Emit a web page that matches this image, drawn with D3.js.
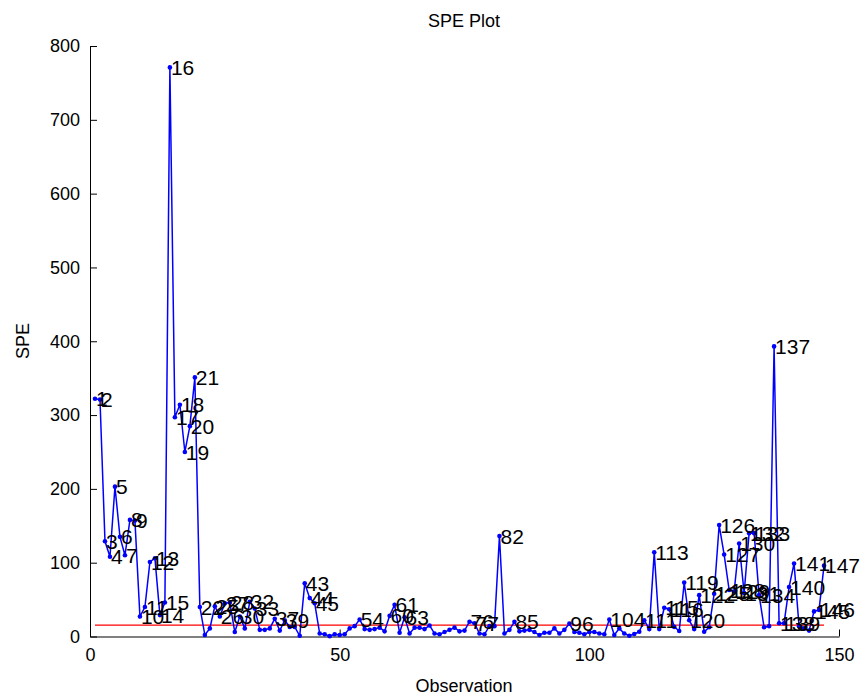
<!DOCTYPE html>
<html>
<head>
<meta charset="utf-8">
<script src="https://cdn.jsdelivr.net/npm/d3@7"></script>
<style>
  body { margin: 0; background: #fff; }
  text { font-family: "Liberation Sans", Arial, sans-serif; }
</style>
</head>
<body>
<svg width="865" height="699"></svg>
<script>
// SPE value per observation (observation number = position + 1)
var spe = [
  322, 321, 129, 108, 203, 135, 110, 158, 157, 27,
  40, 101, 106, 29, 46, 771, 297, 314, 250, 285,
  351, 40, 2, 11, 41, 27, 45, 46, 6, 27,
  11, 47, 38, 9, 9, 11, 24, 8, 22, 13,
  13, 1, 72, 52, 45, 4, 3, 0.5, 3, 2,
  3, 11, 14, 23, 10, 9, 10, 12, 7, 28,
  43, 5, 26, 4, 12, 12, 10, 15, 4, 3,
  6, 9, 12, 7, 8, 20, 18, 4, 3, 14,
  14, 136, 4, 9, 20, 7, 8, 9, 6, 2,
  5, 5, 11, 4, 9, 17.5, 6, 5, 3, 6,
  6, 4, 3, 23, 2, 11, 4, 1, 3.4, 6.5,
  22, 10, 114, 10, 39, 37, 13, 7.5, 73, 22,
  10, 56, 6.5, 12.5, 58, 151, 111, 63, 61, 126,
  59, 140, 140, 56, 12.5, 14, 393, 18, 18, 67,
  99, 14, 11, 8, 34, 36, 96
];
var limit = 15.5;
var xTicks = [0, 50, 100, 150];
var yTicks = [0, 100, 200, 300, 400, 500, 600, 700, 800];

var svg = d3.select("svg");

var x = d3.scaleLinear().domain([0, 150]).range([90, 839]);
var y = d3.scaleLinear().domain([0, 800]).range([636.5, 46]);

var data = spe.map(function (v, i) { return { obs: i + 1, v: v }; });

// axes (box off, ticks inward)
var xAxis = svg.append("g")
    .attr("transform", "translate(0," + y(0) + ")")
    .call(d3.axisBottom(x).tickValues(xTicks).tickSizeInner(-7).tickSizeOuter(0).tickPadding(12));
var yAxis = svg.append("g")
    .attr("transform", "translate(" + x(0) + ",0)")
    .call(d3.axisLeft(y).tickValues(yTicks).tickSizeInner(-7).tickSizeOuter(0).tickPadding(10));

[xAxis, yAxis].forEach(function (a) {
    a.select(".domain").attr("stroke", "#000");
    a.selectAll(".tick line").attr("stroke", "#000");
    a.selectAll(".tick text").attr("font-size", 18).attr("fill", "#000")
        .style("font-family", "'Liberation Sans', Arial, sans-serif");
});

// control limit
var limitLine = d3.line().x(function (d) { return x(d.obs); }).y(function () { return y(limit); });
svg.append("path")
    .datum([data[0], data[data.length - 1]])
    .attr("d", limitLine)
    .attr("fill", "none")
    .attr("stroke", "#ff0000")
    .attr("stroke-width", 1.3);

// SPE line
var line = d3.line().x(function (d) { return x(d.obs); }).y(function (d) { return y(d.v); });
svg.append("path")
    .datum(data)
    .attr("d", line)
    .attr("fill", "none")
    .attr("stroke", "#0000ff")
    .attr("stroke-width", 1.5);

svg.selectAll(".pt")
    .data(data)
    .enter().append("circle")
    .attr("class", "pt")
    .attr("cx", function (d) { return x(d.obs); })
    .attr("cy", function (d) { return y(d.v); })
    .attr("r", 2.3)
    .attr("fill", "#0000ff");

// labels for points over the limit
svg.selectAll(".lbl")
    .data(data.filter(function (d) { return d.v > limit; }))
    .enter().append("text")
    .attr("class", "lbl")
    .attr("x", function (d) { return x(d.obs) + 1; })
    .attr("y", function (d) { return y(d.v); })
    .attr("dy", "0.36em")
    .attr("font-size", 21)
    .text(function (d) { return d.obs; });

// titles
svg.append("text")
    .attr("x", 464).attr("y", 27)
    .attr("text-anchor", "middle")
    .attr("font-size", 18)
    .text("SPE Plot");
svg.append("text")
    .attr("x", 464).attr("y", 692)
    .attr("text-anchor", "middle")
    .attr("font-size", 18)
    .text("Observation");
svg.append("text")
    .attr("transform", "translate(29," + 341 + ") rotate(-90)")
    .attr("text-anchor", "middle")
    .attr("font-size", 18)
    .text("SPE");
</script>
</body>
</html>
